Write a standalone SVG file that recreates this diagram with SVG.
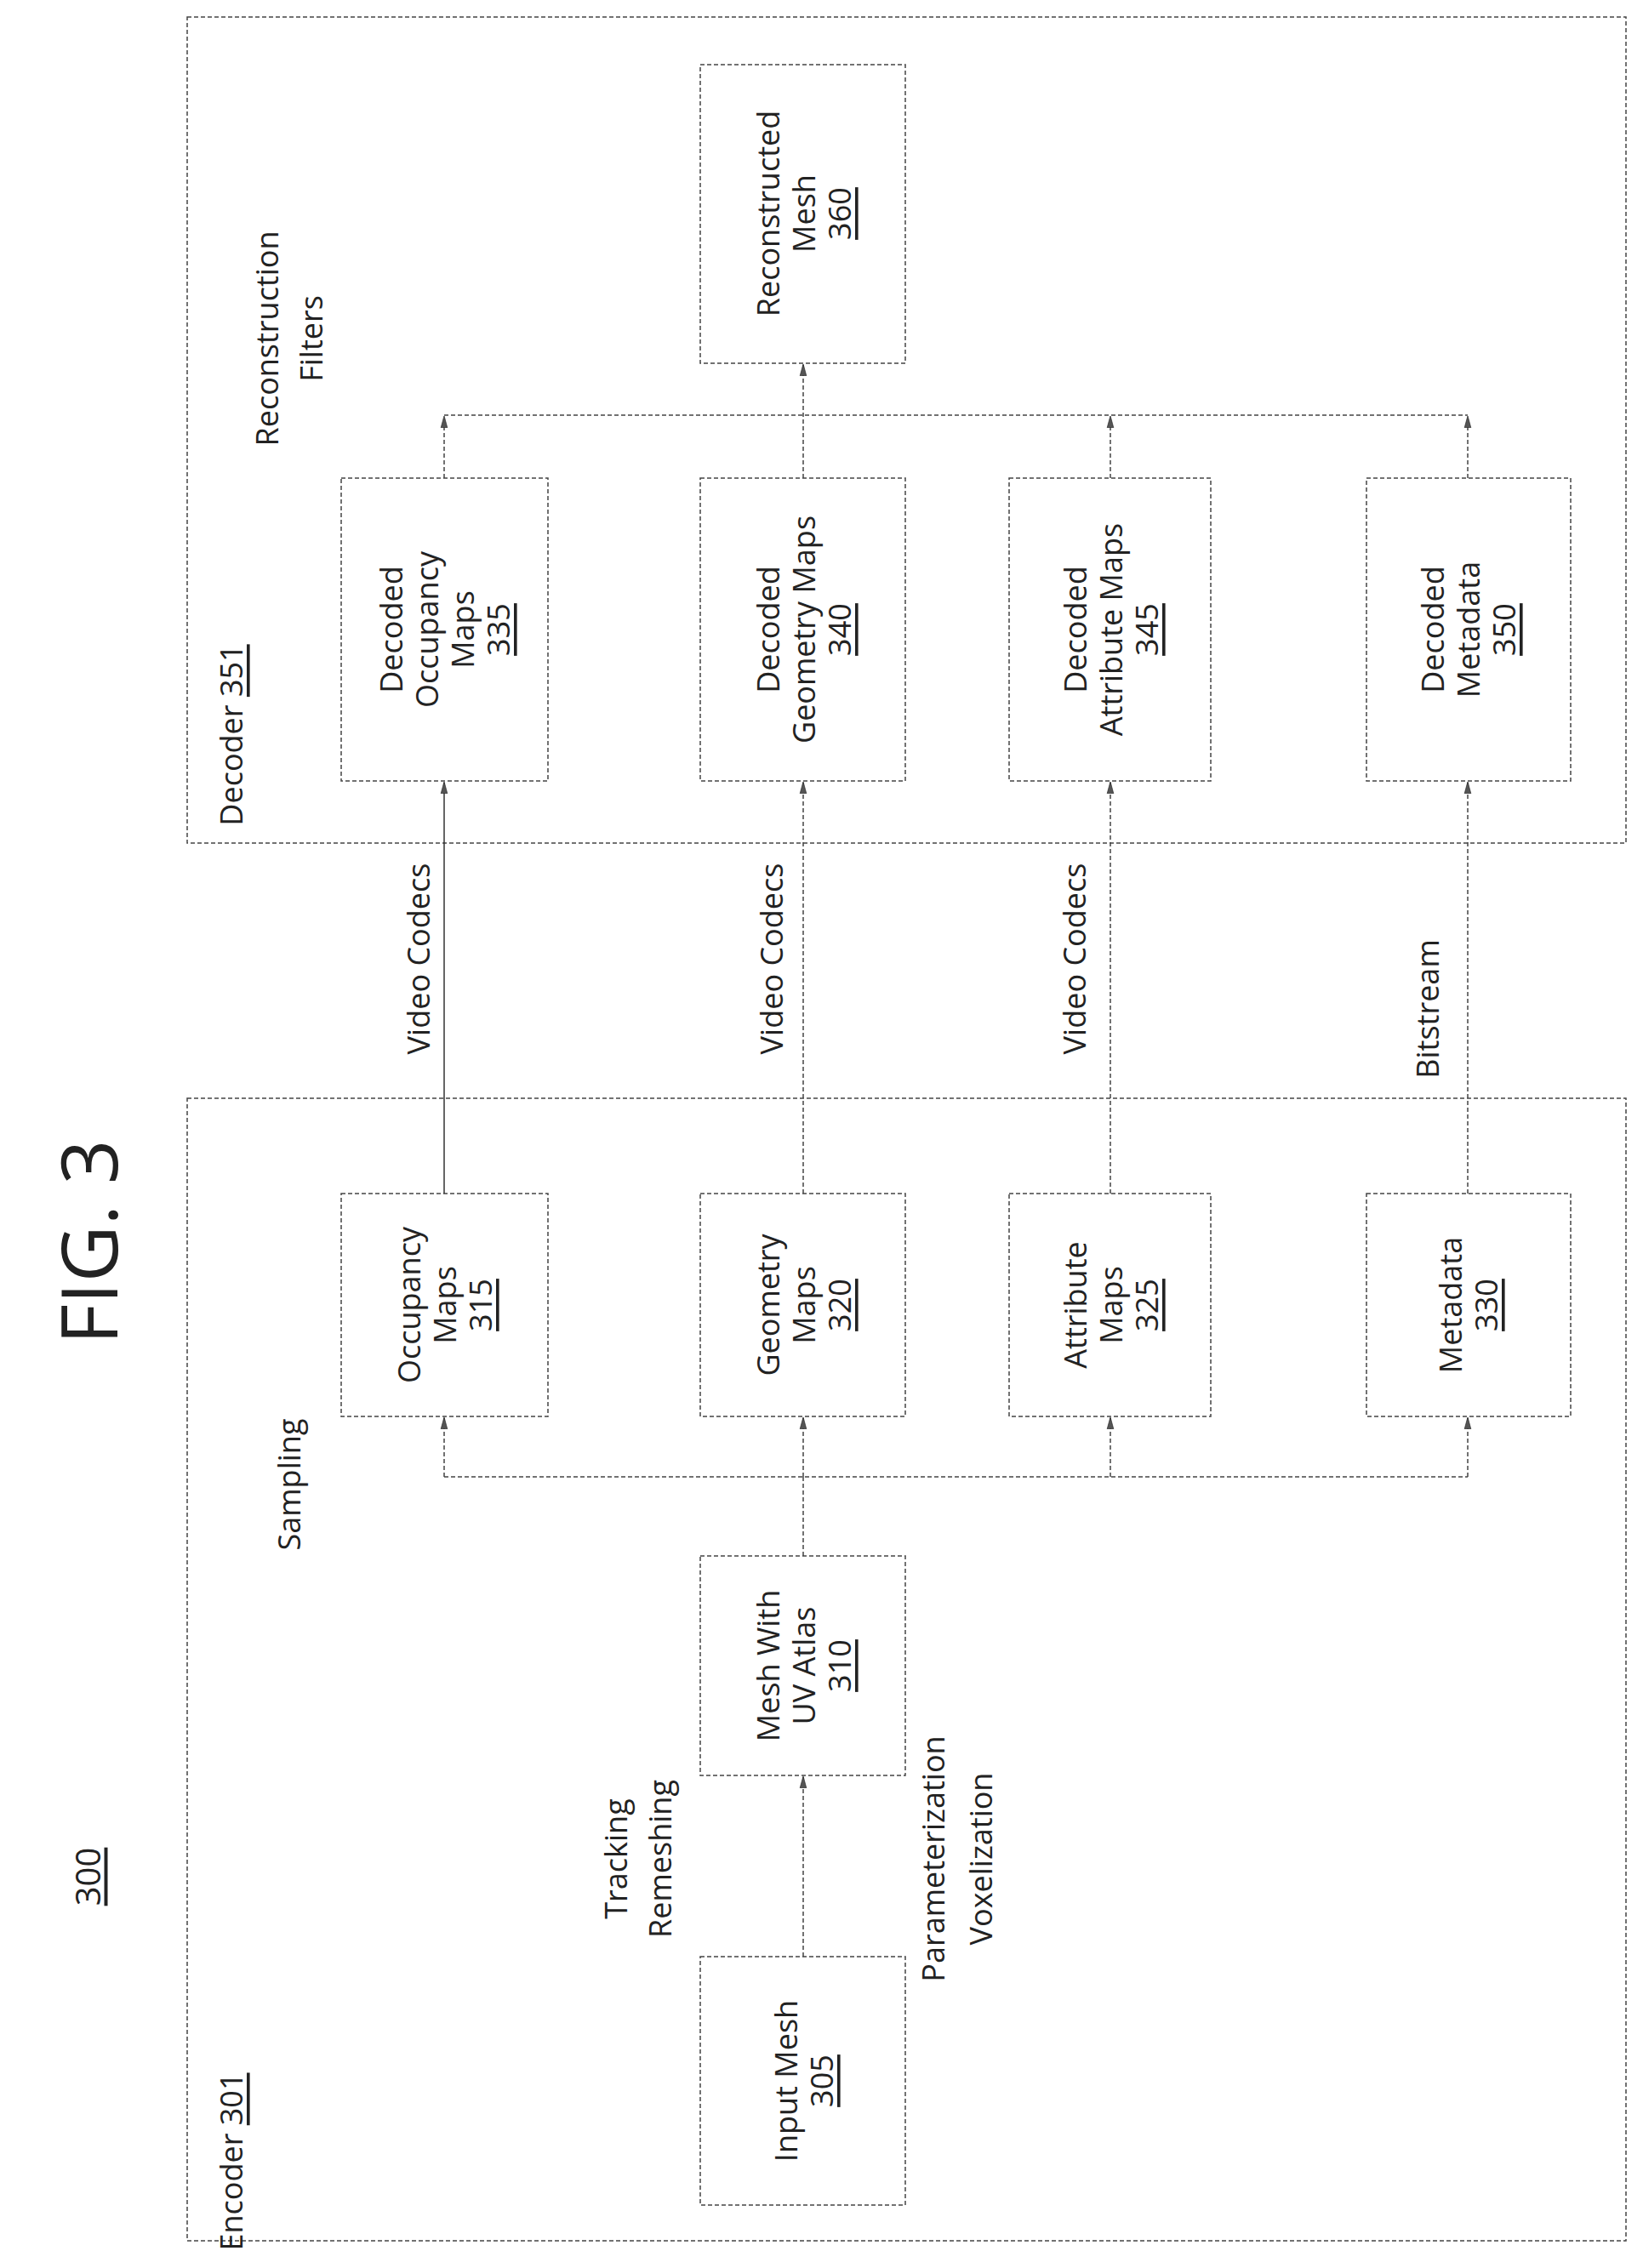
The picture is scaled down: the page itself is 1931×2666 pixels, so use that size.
<svg xmlns="http://www.w3.org/2000/svg" width="1931" height="2666" viewBox="0 0 1931 2666">
<defs>
<marker id="ah" markerWidth="14" markerHeight="22" refX="20" refY="7" orient="auto" markerUnits="userSpaceOnUse" viewBox="0 0 22 14">
<path d="M0,1 L22,7 L0,13 Z" fill="#555" stroke="#222" stroke-width="1"/>
</marker>
</defs>
<style>
.box{fill:none;stroke:#444;stroke-width:1.5;stroke-dasharray:5 3}
.c{fill:none;stroke:#444;stroke-width:1.5;stroke-dasharray:5 3}
.cs{fill:none;stroke:#333;stroke-width:1.5}
.a{marker-end:url(#ah)}
text{font-family:"Open Sans","Liberation Sans",sans-serif;font-size:36px;fill:#222;text-anchor:middle;dominant-baseline:central}
.u{text-decoration:underline}
</style>
<rect width="1931" height="2666" fill="#fff"/>
<text transform="translate(102,1460) rotate(-90)" style="font-size:92px">FIG. 3</text>
<text transform="translate(102,2206) rotate(-90)" class="u" style="font-size:40px">300</text>

<g id="decoder"><rect class="box" x="220" y="20" width="1691" height="971"/>
<text transform="translate(271,864) rotate(-90)">Decoder <tspan class="u">351</tspan></text></g>
<g id="encoder"><rect class="box" x="220" y="1291" width="1691" height="1343"/>
<text transform="translate(271,2541) rotate(-90)">Encoder <tspan class="u">301</tspan></text></g>

<g id="labels">
<text transform="translate(339,1745) rotate(-90)">Sampling</text>
<text transform="translate(339,398) rotate(-90)"><tspan x="0" y="-26">Reconstruction</tspan><tspan x="0" y="26">Filters</tspan></text>
<text transform="translate(749,2185) rotate(-90)"><tspan x="0" y="-26">Tracking</tspan><tspan x="0" y="26">Remeshing</tspan></text>
<text transform="translate(1124,2185) rotate(-90)"><tspan x="0" y="-28">Parameterization</tspan><tspan x="0" y="28">Voxelization</tspan></text>
<text transform="translate(491,1127) rotate(-90)">Video Codecs</text>
<text transform="translate(906,1127) rotate(-90)">Video Codecs</text>
<text transform="translate(1262,1127) rotate(-90)">Video Codecs</text>
<text transform="translate(1677,1186) rotate(-90)">Bitstream</text>
</g>

<g id="n360"><rect class="box" x="823" y="76" width="241" height="351"/>
<text transform="translate(944,251) rotate(-90)"><tspan x="0" y="-42">Reconstructed</tspan><tspan x="0" y="0">Mesh</tspan><tspan x="0" y="42" class="u">360</tspan></text></g>
<g id="n335"><rect class="box" x="401" y="562" width="243" height="356"/>
<text transform="translate(522,740) rotate(-90)"><tspan x="0" y="-63">Decoded</tspan><tspan x="0" y="-21">Occupancy</tspan><tspan x="0" y="21">Maps</tspan><tspan x="0" y="63" class="u">335</tspan></text></g>
<g id="n340"><rect class="box" x="823" y="562" width="241" height="356"/>
<text transform="translate(944,740) rotate(-90)"><tspan x="0" y="-42">Decoded</tspan><tspan x="0" y="0">Geometry Maps</tspan><tspan x="0" y="42" class="u">340</tspan></text></g>
<g id="n345"><rect class="box" x="1186" y="562" width="237" height="356"/>
<text transform="translate(1305,740) rotate(-90)"><tspan x="0" y="-42">Decoded</tspan><tspan x="0" y="0">Attribute Maps</tspan><tspan x="0" y="42" class="u">345</tspan></text></g>
<g id="n350"><rect class="box" x="1606" y="562" width="240" height="356"/>
<text transform="translate(1725,740) rotate(-90)"><tspan x="0" y="-42">Decoded</tspan><tspan x="0" y="0">Metadata</tspan><tspan x="0" y="42" class="u">350</tspan></text></g>

<g id="n315"><rect class="box" x="401" y="1403" width="243" height="262"/>
<text transform="translate(522,1534) rotate(-90)"><tspan x="0" y="-42">Occupancy</tspan><tspan x="0" y="0">Maps</tspan><tspan x="0" y="42" class="u">315</tspan></text></g>
<g id="n320"><rect class="box" x="823" y="1403" width="241" height="262"/>
<text transform="translate(944,1534) rotate(-90)"><tspan x="0" y="-42">Geometry</tspan><tspan x="0" y="0">Maps</tspan><tspan x="0" y="42" class="u">320</tspan></text></g>
<g id="n325"><rect class="box" x="1186" y="1403" width="237" height="262"/>
<text transform="translate(1305,1534) rotate(-90)"><tspan x="0" y="-42">Attribute</tspan><tspan x="0" y="0">Maps</tspan><tspan x="0" y="42" class="u">325</tspan></text></g>
<g id="n330"><rect class="box" x="1606" y="1403" width="240" height="262"/>
<text transform="translate(1725,1534) rotate(-90)"><tspan x="0" y="-21">Metadata</tspan><tspan x="0" y="21" class="u">330</tspan></text></g>

<g id="n310"><rect class="box" x="823" y="1829" width="241" height="258"/>
<text transform="translate(944,1958) rotate(-90)"><tspan x="0" y="-42">Mesh With</tspan><tspan x="0" y="0">UV Atlas</tspan><tspan x="0" y="42" class="u">310</tspan></text></g>
<g id="n305"><rect class="box" x="823" y="2300" width="241" height="292"/>
<text transform="translate(944,2446) rotate(-90)"><tspan x="0" y="-21">Input Mesh</tspan><tspan x="0" y="21" class="u">305</tspan></text></g>

<g id="connectors">
<line class="c a" x1="944" y1="2300" x2="944" y2="2089"/>
<line class="c" x1="944" y1="1829" x2="944" y2="1736"/>
<line class="c" x1="522" y1="1736" x2="1725" y2="1736"/>
<line class="c a" x1="522" y1="1736" x2="522" y2="1667"/>
<line class="c a" x1="944" y1="1736" x2="944" y2="1667"/>
<line class="c a" x1="1305" y1="1736" x2="1305" y2="1667"/>
<line class="c a" x1="1725" y1="1736" x2="1725" y2="1667"/>
<line class="cs a" x1="522" y1="1403" x2="522" y2="920"/>
<line class="c a" x1="944" y1="1403" x2="944" y2="920"/>
<line class="c a" x1="1305" y1="1403" x2="1305" y2="920"/>
<line class="c a" x1="1725" y1="1403" x2="1725" y2="920"/>
<line class="c a" x1="522" y1="562" x2="522" y2="490"/>
<line class="c a" x1="1305" y1="562" x2="1305" y2="490"/>
<line class="c a" x1="1725" y1="562" x2="1725" y2="490"/>
<line class="c" x1="522" y1="488" x2="1725" y2="488"/>
<line class="c a" x1="944" y1="562" x2="944" y2="429"/>
</g>
</svg>
